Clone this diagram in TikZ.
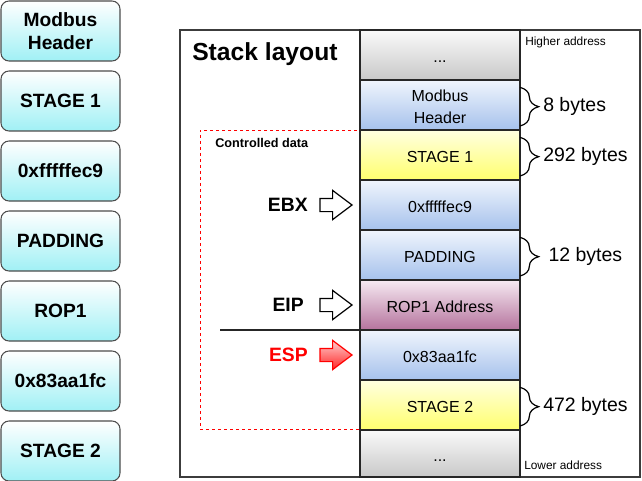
\documentclass[tikz,border=0pt]{standalone}
\usepackage{fontspec}
\setmainfont{Liberation Sans}
\usepackage{tikz}
\usetikzlibrary{positioning, shapes.arrows, decorations.pathreplacing}
\definecolor{cyanlow}{RGB}{160,240,245}
\definecolor{bluelow}{RGB}{166,194,236}
\definecolor{bluetop}{RGB}{240,245,253}
\definecolor{yellowlow}{RGB}{255,255,110}
\definecolor{yellowtop}{RGB}{255,255,225}
\definecolor{purplelow}{RGB}{181,115,157}
\definecolor{purpletop}{RGB}{246,234,242}
\definecolor{greylow}{RGB}{200,200,200}
\definecolor{greytop}{RGB}{250,250,250}
\definecolor{framegrey}{RGB}{60,60,60}
\definecolor{espred}{RGB}{255,0,0}

\begin{document}
\begin{tikzpicture}[
    x=0.75pt, y=-0.75pt,
    lbox/.style={rectangle, rounded corners=6pt, draw=black!70, line width=0.8pt, top color=white, bottom color=cyanlow, minimum width=89.25pt, minimum height=45pt, inner sep=0pt, outer sep=0pt, align=center, font=\bfseries\fontsize{14.4}{17}\selectfont},
    cell/.style={rectangle, draw=black!85, line width=1.2pt, minimum width=120pt, minimum height=37.5pt, inner sep=0pt, outer sep=0pt, text height=12pt, align=center, font=\fontsize{12}{17}\selectfont},
    greycell/.style={cell, top color=greytop, bottom color=greylow},
    bluecell/.style={cell, top color=bluetop, bottom color=bluelow},
    yellowcell/.style={cell, top color=yellowtop, bottom color=yellowlow},
    purplecell/.style={cell, top color=purpletop, bottom color=purplelow},
    brace/.style={decorate, decoration={brace, amplitude=14pt}, line width=0.9pt},
    bytes/.style={anchor=west, inner sep=0pt, font=\fontsize{14.6}{17}\selectfont},
    reglabel/.style={inner sep=0pt, font=\bfseries\fontsize{14.5}{17}\selectfont},
    regarrow/.style={single arrow, draw=black, line width=0.9pt, fill=white, minimum height=24pt, inner sep=4.5pt, outer sep=0pt, single arrow head extend=6pt, single arrow tip angle=74, anchor=tip},
    addr/.style={anchor=west, inner sep=0pt, font=\fontsize{8.9}{10}\selectfont}
]
    \useasboundingbox (0,0) rectangle (642,481);

    % left column of payload pieces
    \node[lbox, anchor=north west] (lhdr) at (1,1) {Modbus\\Header};
    \node[lbox, below=7.5pt of lhdr] (lstage1) {STAGE 1};
    \node[lbox, below=7.5pt of lstage1] (lebx) {0xfffffec9};
    \node[lbox, below=7.5pt of lebx] (lpad) {PADDING};
    \node[lbox, below=7.5pt of lpad] (lrop) {ROP1};
    \node[lbox, below=7.5pt of lrop] (lesp) {0x83aa1fc};
    \node[lbox, below=7.5pt of lesp] (lstage2) {STAGE 2};

    % frame and controlled region
    \node[draw=framegrey, line width=1.1pt, anchor=north west, minimum width=345pt, minimum height=335.25pt, inner sep=0pt, outer sep=0pt] (frame) at (180,30) {};
    \node[draw=espred, line width=0.7pt, dash pattern=on 2.25pt off 2.25pt, anchor=north west, minimum width=120pt, minimum height=224.25pt, inner sep=0pt, outer sep=0pt] (ctrl) at (200,130) {};
    \node[anchor=west, inner sep=0pt, font=\bfseries\fontsize{18.5}{20}\selectfont] (title) at (192,54) {Stack layout};
    \node[anchor=west, inner sep=0pt, font=\bfseries\fontsize{9.5}{11}\selectfont] (ctrltxt) at (215,143) {Controlled data};

    % stack cells
    \node[greycell, anchor=north west] (dots1) at (360,30) {...};
    \node[bluecell, below=0pt of dots1, text height=28.5pt] (mhdr) {Modbus\\Header};
    \node[yellowcell, below=0pt of mhdr] (stage1) {STAGE 1};
    \node[bluecell, below=0pt of stage1] (ebxval) {0xfffffec9};
    \node[bluecell, below=0pt of ebxval] (padd) {PADDING};
    \node[purplecell, below=0pt of padd] (rop) {ROP1 Address};
    \node[bluecell, below=0pt of rop] (espval) {0x83aa1fc};
    \node[yellowcell, below=0pt of espval] (stage2) {STAGE 2};
    \node[greycell, below=0pt of stage2, minimum height=35.25pt] (dots2) {...};

    \node[addr] (hiaddr) at (525,42) {Higher address};
    \node[addr] (loaddr) at (524,465) {Lower address};

    % sizes
    \draw[brace] ([yshift=-5.5pt]mhdr.north east) -- ([yshift=3pt]mhdr.south east) node[bytes, midway, xshift=17pt] {8 bytes};
    \draw[brace] ([yshift=-5.5pt]stage1.north east) -- ([yshift=3pt]stage1.south east) node[bytes, midway, xshift=17pt] {292 bytes};
    \draw[brace] ([yshift=-5.5pt]padd.north east) -- ([yshift=3pt]padd.south east) node[bytes, midway, xshift=21pt] {12 bytes};
    \draw[brace] ([yshift=-5.5pt]stage2.north east) -- ([yshift=3pt]stage2.south east) node[bytes, midway, xshift=17pt] {472 bytes};

    % registers
    \node[regarrow, xshift=-6pt] (ebxarr) at (ebxval.west) {};
    \node[reglabel, left=9pt of ebxarr] (ebx) {EBX};
    \node[regarrow, xshift=-6pt] (eiparr) at (rop.west) {};
    \node[reglabel, left=12pt of eiparr] (eip) {EIP};
    \node[regarrow, xshift=-6pt, draw=espred, top color=red!20, bottom color=red!85] (esparr) at (espval.west) {};
    \node[reglabel, left=9pt of esparr, text=espred] (esp) {ESP};

    \coordinate (split) at ([xshift=-105pt]rop.south west);
    \draw[line width=1.1pt, black!85] (split) -- (rop.south west);
\end{tikzpicture}
\end{document}
